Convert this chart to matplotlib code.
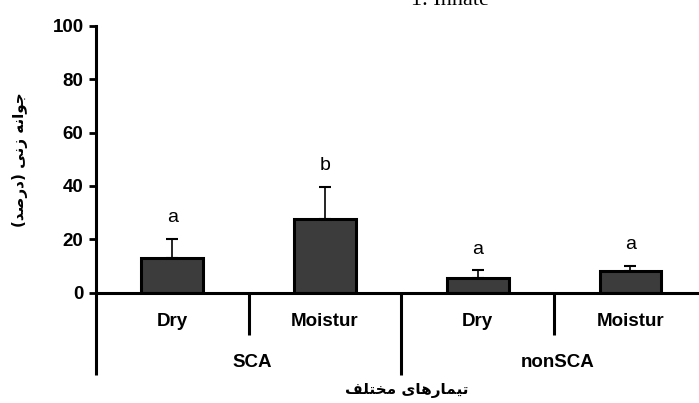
import numpy as np
import matplotlib
matplotlib.use('Agg')
import matplotlib.pyplot as plt

# data
treatments = ['Dry', 'Moistur', 'Dry', 'Moistur']
groups = ['SCA', 'nonSCA']
germination = [13.0, 27.5, 5.5, 8.0]      # mean (%)
germination_err = [7.1, 12.0, 2.8, 2.0]  # upper error
letters = ['a', 'b', 'a', 'a']
y_ticks = [0, 20, 40, 60, 80, 100]

title = '1. Innate'
# Persian labels, pre-shaped (presentation forms, visual order) since matplotlib has no bidi
y_label = ('(\uFEAA\uFEBB\uFEAD\uFEA9)' + ' ' + '\uFEF0\uFEE7\uFEAF' + ' '
           + '\uFEEA\uFEE7\uFE8D\uFEEE\uFE9F')   # جوانه زنی (درصد)
x_label = ('\uFED2\uFEE0\uFE98\uFEA8\uFEE3' + ' '
           + '\uFEEF\uFE8E\uFEEB\uFEAD\uFE8E\uFEE4\uFEF4\uFE97')  # تیمارهای مختلف

bar_color = '#3c3c3c'
axis_lw = 2.2

fig = plt.figure(figsize=(6.99, 4.03), dpi=100)
ax = fig.add_axes([96 / 699, 1 - 292.5 / 403, 1 - 96 / 699, (292.5 - 26) / 403])

x = np.arange(len(treatments))
ax.bar(x, germination, width=0.405, color=bar_color, edgecolor='black', linewidth=2.2,
       zorder=2)
ax.errorbar(x, germination, yerr=[np.zeros(len(x)), germination_err], fmt='none',
            ecolor='black', elinewidth=1.2, capsize=4.5, capthick=1.5, zorder=1)

for i in range(len(x)):
    ax.text(x[i], germination[i] + germination_err[i] + 8, letters[i], ha='center',
            va='center', fontsize=14, family='Liberation Sans')

ax.set_xlim(-0.5, 3.449)
ax.set_ylim(0, 100)
ax.set_yticks(y_ticks)
ax.set_yticklabels([str(t) for t in y_ticks], fontsize=13.5, fontweight='bold',
                   family='Liberation Sans')
ax.set_xticks([])
ax.tick_params(axis='y', direction='out', length=5, width=2, pad=4)

for s in ['top', 'right']:
    ax.spines[s].set_visible(False)
for s in ['left', 'bottom']:
    ax.spines[s].set_linewidth(axis_lw)

# group separators below the axis
ax.plot([-0.5, -0.5], [0, -31], color='black', lw=axis_lw, clip_on=False,
        solid_capstyle='butt')
ax.plot([1.5, 1.5], [0, -31], color='black', lw=axis_lw, clip_on=False,
        solid_capstyle='butt')
for sx in [0.5, 2.5]:
    ax.plot([sx, sx], [0, -16], color='black', lw=axis_lw, clip_on=False,
            solid_capstyle='butt')

for i in range(len(x)):
    ax.text(x[i], -11, treatments[i], ha='center', va='center', fontsize=13.5,
            fontweight='bold', family='Liberation Sans', clip_on=False)
for j, g in enumerate(groups):
    ax.text(2 * j + 0.52, -26.1, g, ha='center', va='center', fontsize=13.5,
            fontweight='bold', family='Liberation Sans', clip_on=False)

fig.text(407 / 699, 1 - 391 / 403, x_label, ha='center', va='center', fontsize=11,
         fontweight='bold', family='DejaVu Sans')
fig.text(20 / 699, 1 - 160 / 403, y_label, ha='center', va='center', rotation=90,
         fontsize=11, fontweight='bold', family='DejaVu Sans')
fig.text(450 / 699, 1 - 5 / 403, title, ha='center', va='baseline', fontsize=16,
         family='Liberation Serif')

fig.savefig('out.png', dpi=100)
